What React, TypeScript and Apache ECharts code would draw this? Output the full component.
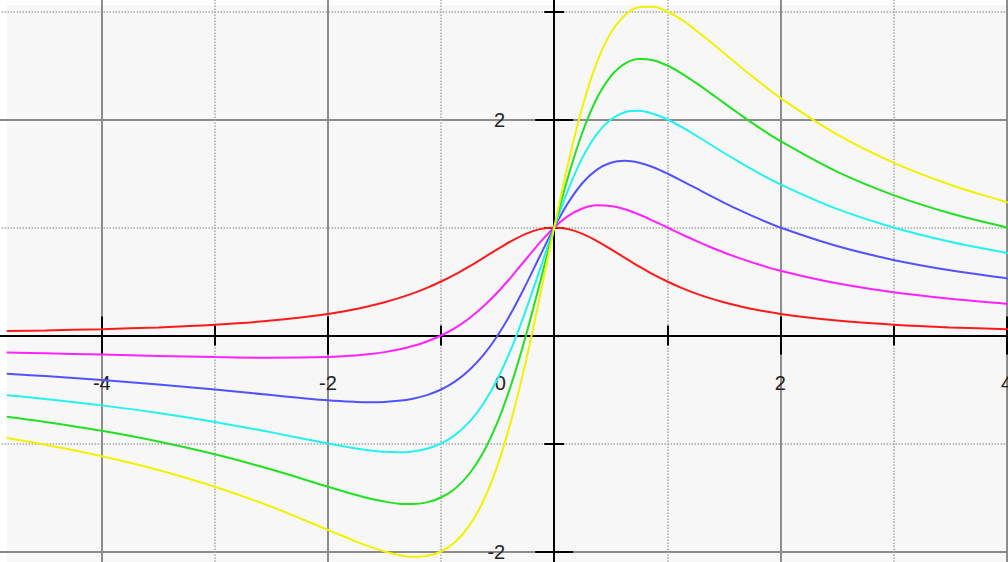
import React, { useEffect, useRef } from "react";
import * as echarts from "echarts";

const xs = [-4.84, -4.5, -4, -3.5, -3, -2.5, -2, -1.75, -1.625, -1.5, -1.375, -1.25, -1.125, -1, -0.875, -0.75, -0.625, -0.5, -0.375, -0.25, -0.125, 0, 0.125, 0.25, 0.375, 0.5, 0.625, 0.75, 0.875, 1, 1.125, 1.25, 1.375, 1.5, 1.625, 1.75, 2, 2.5, 3, 3.5, 4, 4.05];

const redVals = [0.041, 0.047, 0.059, 0.075, 0.1, 0.138, 0.2, 0.246, 0.275, 0.308, 0.346, 0.39, 0.441, 0.5, 0.566, 0.64, 0.719, 0.8, 0.877, 0.941, 0.985, 1, 0.985, 0.941, 0.877, 0.8, 0.719, 0.64, 0.566, 0.5, 0.441, 0.39, 0.346, 0.308, 0.275, 0.246, 0.2, 0.138, 0.1, 0.075, 0.059, 0.057];
const magentaVals = [-0.157, -0.165, -0.176, -0.189, -0.2, -0.207, -0.2, -0.185, -0.172, -0.154, -0.13, -0.098, -0.055, 0, 0.071, 0.16, 0.27, 0.4, 0.548, 0.706, 0.862, 1, 1.108, 1.176, 1.205, 1.2, 1.169, 1.12, 1.062, 1, 0.938, 0.878, 0.822, 0.769, 0.721, 0.677, 0.6, 0.483, 0.4, 0.34, 0.294, 0.29];
const blueVals = [-0.355, -0.376, -0.412, -0.453, -0.5, -0.552, -0.6, -0.615, -0.618, -0.615, -0.605, -0.585, -0.552, -0.5, -0.425, -0.32, -0.18, 0, 0.219, 0.471, 0.738, 1, 1.231, 1.412, 1.534, 1.6, 1.618, 1.6, 1.558, 1.5, 1.434, 1.366, 1.297, 1.231, 1.167, 1.108, 1, 0.828, 0.7, 0.604, 0.529, 0.523];
const cyanVals = [-0.554, -0.588, -0.647, -0.717, -0.8, -0.897, -1, -1.046, -1.064, -1.077, -1.081, -1.073, -1.048, -1, -0.92, -0.8, -0.629, -0.4, -0.11, 0.235, 0.615, 1, 1.354, 1.647, 1.863, 2, 2.067, 2.08, 2.053, 2, 1.931, 1.854, 1.773, 1.692, 1.614, 1.538, 1.4, 1.172, 1, 0.868, 0.765, 0.756];
const greenVals = [-0.752, -0.8, -0.882, -0.981, -1.1, -1.241, -1.4, -1.477, -1.511, -1.538, -1.557, -1.561, -1.545, -1.5, -1.416, -1.28, -1.079, -0.8, -0.438, 0, 0.492, 1, 1.477, 1.882, 2.192, 2.4, 2.517, 2.56, 2.549, 2.5, 2.427, 2.341, 2.249, 2.154, 2.06, 1.969, 1.8, 1.517, 1.3, 1.132, 1, 0.988];
const yellowVals = [-0.95, -1.012, -1.118, -1.245, -1.4, -1.586, -1.8, -1.908, -1.957, -2, -2.032, -2.049, -2.042, -2, -1.911, -1.76, -1.528, -1.2, -0.767, -0.235, 0.369, 1, 1.6, 2.118, 2.521, 2.8, 2.966, 3.04, 3.044, 3, 2.924, 2.829, 2.724, 2.615, 2.506, 2.4, 2.2, 1.862, 1.6, 1.396, 1.235, 1.221];

const curves = [
  { name: "red", color: "#ff1a1a", values: redVals },
  { name: "magenta", color: "#ff22ff", values: magentaVals },
  { name: "blue", color: "#5252ff", values: blueVals },
  { name: "cyan", color: "#22f2f2", values: cyanVals },
  { name: "green", color: "#22e022", values: greenVals },
  { name: "yellow", color: "#f2f200", values: yellowVals },
];

const xLabels = [-4, -2, 2, 4];
const yLabels = [-2, 2];

export default function App() {
  const ref = useRef<HTMLDivElement>(null);

  useEffect(() => {
    const chart = echarts.init(ref.current as HTMLDivElement, null, { renderer: "svg" });
    const fontFamily = "'Liberation Sans', Arial, sans-serif";
    const black = { color: "#000", width: 2 };
    const majorGrid = { show: true, lineStyle: { color: "#8c8c8c", width: 2 } };
    const minorGrid = { show: true, lineStyle: { color: "#a8a8a8", width: 1.5, type: [1.5, 1.5] } };

    // grid geometry (pixels): x = -6 .. 6 spans -124.4 .. 1232.8, y = 4 .. -4 spans -96.5 .. 767.5
    const xOffset = -432; // moves horizontal axes from grid edge to y = 0
    const yOffset = -678.6; // moves vertical axes from grid edge to x = 0

    const xCommon = {
      type: "value",
      min: -6,
      max: 6,
      interval: 2,
      offset: xOffset,
      axisLine: { show: true, onZero: false, lineStyle: black },
      axisTick: { show: true, length: 19, lineStyle: black },
      minorTick: { show: true, splitNumber: 2, length: 10, lineStyle: black },
    };
    const yCommon = {
      type: "value",
      min: -4,
      max: 4,
      interval: 2,
      offset: yOffset,
      axisLine: { show: true, onZero: false, lineStyle: black },
      axisTick: { show: true, length: 19, lineStyle: black },
      minorTick: { show: true, splitNumber: 2, length: 10, lineStyle: black },
    };

    chart.setOption({
      animation: false,
      grid: {
        left: -124.4,
        right: -224.8,
        top: -96.5,
        bottom: -205.5,
        containLabel: false,
        outerBoundsMode: "none",
      },
      xAxis: [
        {
          ...xCommon,
          position: "bottom",
          splitLine: majorGrid,
          minorSplitLine: minorGrid,
          axisLabel: {
            show: true,
            margin: 37,
            fontFamily,
            fontSize: 20,
            color: "#222",
            formatter: (v: number) => (v === 0 ? "{z|0}" : xLabels.indexOf(v) >= 0 ? String(v) : ""),
            rich: { z: { padding: [0, 108, 0, 0], fontFamily, fontSize: 20, color: "#222" } },
          },
        },
        {
          ...xCommon,
          position: "top",
          splitLine: { show: false },
          minorSplitLine: { show: false },
          axisLabel: { show: false },
        },
      ],
      yAxis: [
        {
          ...yCommon,
          position: "left",
          splitLine: majorGrid,
          minorSplitLine: minorGrid,
          axisLabel: {
            show: true,
            margin: 49,
            fontFamily,
            fontSize: 20,
            color: "#222",
            formatter: (v: number) => (yLabels.indexOf(v) >= 0 ? String(v) : ""),
          },
        },
        {
          ...yCommon,
          position: "right",
          splitLine: { show: false },
          minorSplitLine: { show: false },
          axisLabel: { show: false },
        },
      ],
      series: curves.map((c) => ({
        type: "line",
        name: c.name,
        xAxisIndex: 0,
        yAxisIndex: 0,
        data: xs.map((x, i) => [x, c.values[i]]),
        smooth: 0.35,
        symbol: "none",
        showSymbol: false,
        z: 3,
        lineStyle: { color: c.color, width: 2 },
        itemStyle: { color: c.color },
      })),
    });

    return () => chart.dispose();
  }, []);

  return (
    <div style={{ position: "fixed", left: 0, top: 0, width: 1008, height: 562, background: "#ffffff", overflow: "hidden" }}>
      <div style={{ position: "absolute", left: 7, top: 5, right: 0, bottom: 0, background: "#f7f7f7" }} />
      <div ref={ref} style={{ position: "absolute", left: 0, top: 0, width: 1008, height: 562 }} />
    </div>
  );
}
